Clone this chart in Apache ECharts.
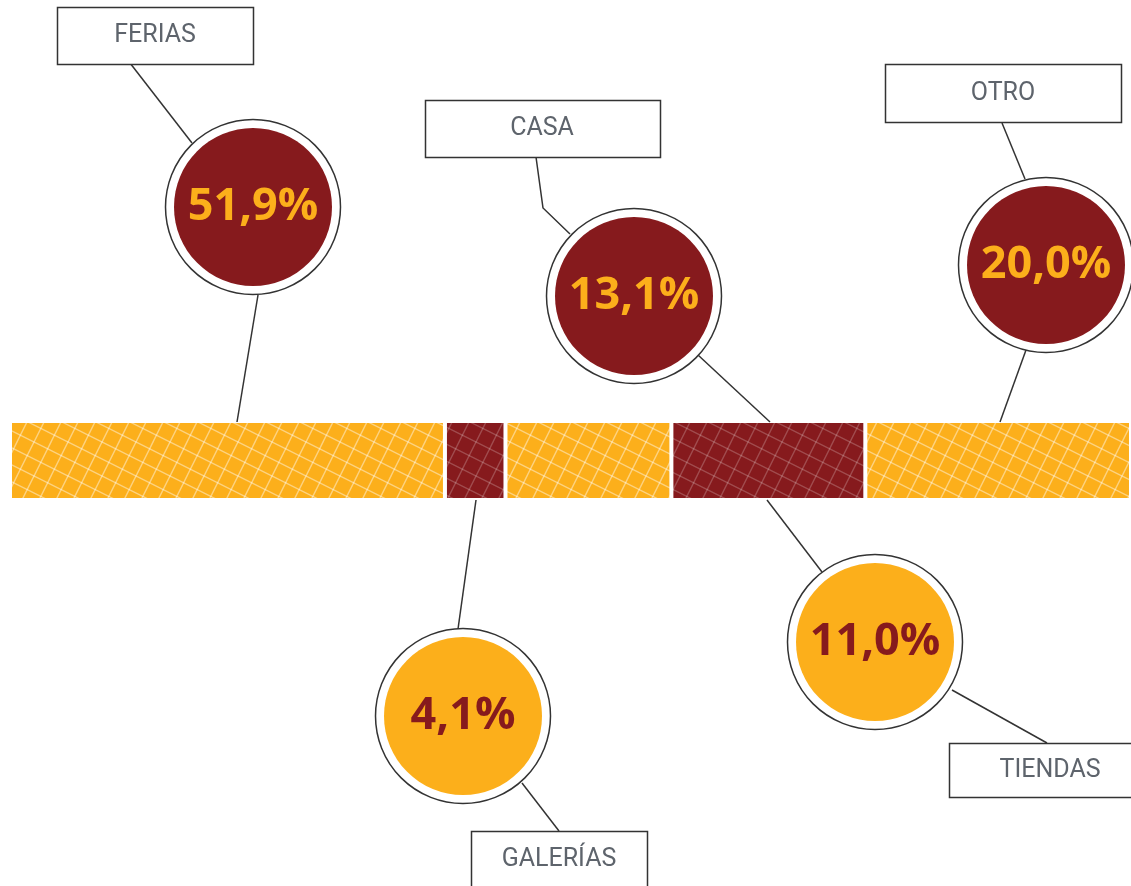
<!DOCTYPE html>
<html>
<head>
<meta charset="utf-8">
<title>Lugar de compra</title>
<script src="https://cdn.jsdelivr.net/npm/echarts@6/dist/echarts.min.js"></script>
<style>
    html, body { margin: 0; padding: 0; background: #fff; }
    #chart { width: 1131px; height: 886px; }
</style>
</head>
<body>
<div id="chart"></div>
<script>
// datos
var categories = ['FERIAS', 'GALERÍAS', 'CASA', 'TIENDAS', 'OTRO'];
var percentValues = [51.9, 4.1, 13.1, 11.0, 20.0];
// ancho de cada tramo de la barra (% del ancho total)
var barShare = [38.8, 5.4, 14.8, 17.3, 23.7];

var ORANGE = '#fcaf1b';
var RED = '#861a1d';

// posiciones de burbujas y etiquetas (píxeles de la lámina)
var bubbleAt = [[253, 207], [463, 716], [634, 296], [875, 642], [1046, 265]];
var boxAt = [
    [155, 35, 196, 57],
    [559, 859, 176, 57],
    [542, 128, 235, 57],
    [1050, 770, 202, 54],
    [1003, 93, 236, 58]
];
var connectors = [
    [[130, 63], [192, 143]], [[258, 295], [237, 422]],
    [[476, 500], [458, 629]], [[522, 783], [559, 831]],
    [[536, 157], [543, 208], [570, 234]], [[698, 355], [770, 422]],
    [[767, 500], [822, 572]], [[952, 690], [1047, 743]],
    [[1002, 123], [1025, 179]], [[1026, 350], [1000, 422]]
];

/**
 * trama de rejilla inclinada para la barra
 */
var hatch = function (base, lineColor) {
    var T = 34;
    var c = document.createElement('canvas');
    c.width = T;
    c.height = T;
    var ctx = c.getContext('2d');
    ctx.fillStyle = base;
    ctx.fillRect(0, 0, T, T);
    ctx.strokeStyle = lineColor;
    ctx.lineWidth = 1.4;
    for (var k = -3; k <= 4; k++) {
        ctx.beginPath();
        ctx.moveTo(-T, (-T + k * T) / 2);
        ctx.lineTo(2 * T, (2 * T + k * T) / 2);
        ctx.stroke();
        ctx.beginPath();
        ctx.moveTo(-T, k * T + 2 * T);
        ctx.lineTo(2 * T, k * T - 4 * T);
        ctx.stroke();
    }
    return { image: c, repeat: 'repeat' };
};

var fmt = function (v) {
    return v.toFixed(1).replace('.', ',') + '%';
};

var myChart = echarts.init(document.getElementById('chart'));

var barSeries = categories.map(function (name, i) {
    var isOrange = i % 2 === 0;
    return {
        type: 'bar',
        name: name,
        stack: 'total',
        xAxisIndex: 1,
        yAxisIndex: 1,
        barWidth: '100%',
        silent: true,
        itemStyle: {
            color: hatch(isOrange ? ORANGE : RED, isOrange ? 'rgba(255,255,255,0.45)' : 'rgba(255,255,255,0.22)'),
            borderColor: '#fff',
            borderWidth: 2
        },
        data: [barShare[i]]
    };
});

var option = {
    animation: false,
    grid: [
        { left: 0, right: 0, top: 0, bottom: 0 },
        { left: 10, right: -2, top: 421, height: 79 }
    ],
    xAxis: [
        { type: 'value', min: 0, max: 1131, show: false, gridIndex: 0 },
        { type: 'value', min: 0, max: 100, show: false, gridIndex: 1 }
    ],
    yAxis: [
        { type: 'value', min: 0, max: 886, inverse: true, show: false, gridIndex: 0 },
        { type: 'category', data: ['Lugar'], show: false, gridIndex: 1 }
    ],
    series: barSeries.concat([
        {
            type: 'lines',
            coordinateSystem: 'cartesian2d',
            polyline: true,
            silent: true,
            z: 3,
            lineStyle: { color: '#333', width: 1.5, opacity: 1 },
            data: connectors.map(function (c) { return { coords: c }; })
        },
        {
            // anillo exterior
            type: 'scatter',
            silent: true,
            z: 4,
            symbolSize: 175,
            itemStyle: { color: '#fff', borderColor: '#333', borderWidth: 1.5, opacity: 1 },
            data: bubbleAt
        },
        {
            type: 'scatter',
            silent: true,
            z: 5,
            symbolSize: 158,
            data: percentValues.map(function (v, i) {
                var onRed = i % 2 === 0;
                return {
                    value: bubbleAt[i],
                    itemStyle: { color: onRed ? RED : ORANGE, opacity: 1 },
                    label: {
                        show: true,
                        position: 'inside',
                        formatter: fmt(v),
                        color: onRed ? ORANGE : RED,
                        fontFamily: 'Open Sans',
                        fontWeight: 'bold',
                        fontSize: 45
                    }
                };
            })
        },
        {
            // cajas de etiquetas
            type: 'custom',
            silent: true,
            z: 6,
            data: boxAt,
            renderItem: function (params, api) {
                var c = api.coord([api.value(0), api.value(1)]);
                var w = api.value(2), h = api.value(3);
                return {
                    type: 'group',
                    children: [
                        {
                            type: 'rect',
                            shape: { x: Math.round(c[0] - w / 2) + 0.5, y: Math.round(c[1] - h / 2) + 0.5, width: w, height: h },
                            style: { fill: '#fff', stroke: '#333', lineWidth: 1.5 }
                        },
                        {
                            type: 'text',
                            style: {
                                text: categories[params.dataIndex],
                                x: c[0],
                                y: c[1] + 1,
                                align: 'center',
                                verticalAlign: 'middle',
                                fill: '#5e646c',
                                font: '25px Roboto, sans-serif'
                            }
                        }
                    ]
                };
            }
        }
    ])
};

window.addEventListener("resize", function () {
    myChart.resize();
});
myChart.setOption(option);
</script>
</body>
</html>
